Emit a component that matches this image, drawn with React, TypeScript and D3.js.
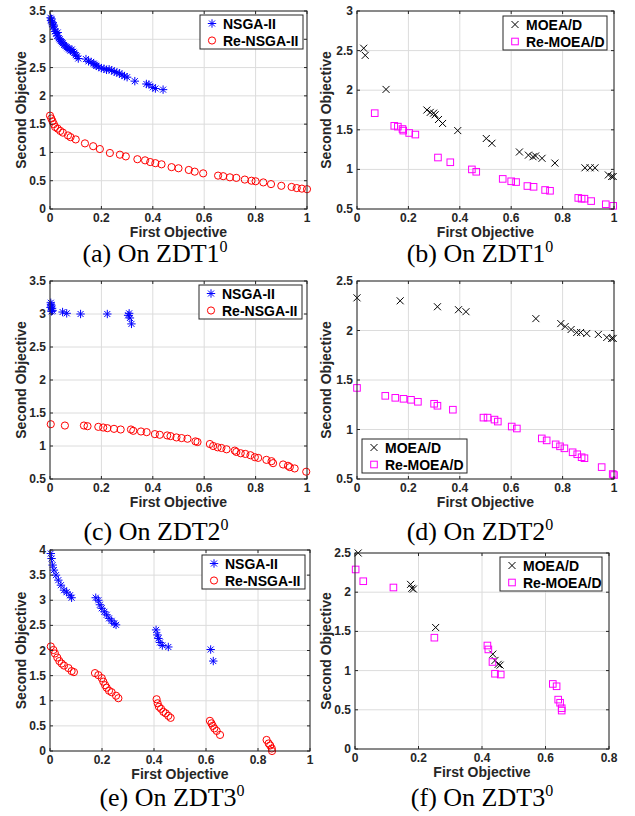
import React, { useEffect, useRef } from "react";
import * as d3 from "d3";

type Pt = [number, number];

// (a) ZDT1, NSGA-II family
const zdt1Nsga: Pt[] = [
  [0.002, 3.38], [0.004, 3.33], [0.006, 3.36], [0.008, 3.3], [0.01, 3.27], [0.012, 3.22],
  [0.015, 3.25], [0.018, 3.18], [0.02, 3.14], [0.024, 3.1], [0.028, 3.06], [0.03, 3.12],
  [0.034, 3.02], [0.038, 3.0], [0.042, 2.97], [0.046, 2.95], [0.05, 2.93], [0.055, 2.9],
  [0.06, 2.88], [0.065, 2.86], [0.07, 2.84], [0.075, 2.82], [0.08, 2.8], [0.085, 2.82],
  [0.09, 2.78], [0.095, 2.76], [0.1, 2.72], [0.105, 2.7], [0.11, 2.66], [0.14, 2.65],
  [0.15, 2.61], [0.16, 2.6], [0.17, 2.57], [0.175, 2.55], [0.18, 2.53], [0.19, 2.51],
  [0.2, 2.49], [0.21, 2.48], [0.22, 2.46], [0.23, 2.47], [0.24, 2.45], [0.25, 2.43],
  [0.26, 2.41], [0.27, 2.4], [0.28, 2.37], [0.29, 2.35], [0.3, 2.33], [0.33, 2.26],
  [0.375, 2.21], [0.385, 2.2], [0.4, 2.15], [0.41, 2.13], [0.44, 2.11],
];
const zdt1ReNsga: Pt[] = [
  [0.0, 1.65], [0.005, 1.6], [0.01, 1.55], [0.015, 1.5], [0.02, 1.45], [0.03, 1.42],
  [0.04, 1.38], [0.05, 1.35], [0.07, 1.3], [0.08, 1.27], [0.1, 1.23], [0.136, 1.16],
  [0.168, 1.11], [0.194, 1.06], [0.233, 0.99], [0.272, 0.96], [0.295, 0.93], [0.34, 0.88],
  [0.37, 0.86], [0.39, 0.83], [0.41, 0.81], [0.434, 0.79], [0.473, 0.74], [0.5, 0.72],
  [0.54, 0.69], [0.563, 0.66], [0.596, 0.63], [0.654, 0.59], [0.674, 0.58], [0.7, 0.56],
  [0.725, 0.55], [0.758, 0.52], [0.784, 0.5], [0.8, 0.49], [0.83, 0.47], [0.86, 0.44],
  [0.9, 0.41], [0.94, 0.39], [0.96, 0.37], [0.98, 0.36], [1.0, 0.35],
];
// (b) ZDT1, MOEA/D family
const zdt1Moead: Pt[] = [
  [0.026, 2.53], [0.032, 2.44], [0.113, 2.01], [0.272, 1.75], [0.285, 1.72], [0.298, 1.71],
  [0.304, 1.69], [0.317, 1.63], [0.333, 1.58], [0.392, 1.49], [0.503, 1.39], [0.525, 1.33],
  [0.632, 1.22], [0.667, 1.18], [0.685, 1.16], [0.695, 1.17], [0.72, 1.14], [0.77, 1.08],
  [0.887, 1.02], [0.907, 1.02], [0.926, 1.02], [0.978, 0.93], [0.991, 0.91], [0.997, 0.91],
];
const zdt1ReMoead: Pt[] = [
  [0.069, 1.71], [0.145, 1.55], [0.159, 1.54], [0.177, 1.51], [0.18, 1.49], [0.203, 1.46],
  [0.227, 1.44], [0.315, 1.15], [0.363, 1.09], [0.447, 1.0], [0.464, 0.97], [0.567, 0.88],
  [0.6, 0.85], [0.619, 0.84], [0.663, 0.79], [0.687, 0.78], [0.732, 0.74], [0.751, 0.73],
  [0.861, 0.64], [0.874, 0.63], [0.885, 0.63], [0.911, 0.6], [0.968, 0.56], [0.997, 0.54],
];
// (c) ZDT2, NSGA-II family
const zdt2Nsga: Pt[] = [
  [0.003, 3.17], [0.005, 3.12], [0.008, 3.08], [0.01, 3.05], [0.002, 3.1], [0.006, 3.04],
  [0.004, 3.14], [0.049, 3.03], [0.065, 3.01], [0.119, 3.0], [0.223, 3.0], [0.304, 2.98],
  [0.308, 3.01], [0.311, 2.94], [0.317, 2.85],
];
const zdt2ReNsga: Pt[] = [
  [0.003, 1.33], [0.058, 1.31], [0.132, 1.31], [0.146, 1.3], [0.188, 1.29], [0.207, 1.28],
  [0.223, 1.27], [0.249, 1.26], [0.275, 1.25], [0.315, 1.25], [0.324, 1.23], [0.354, 1.22],
  [0.376, 1.21], [0.408, 1.18], [0.427, 1.17], [0.456, 1.16], [0.469, 1.15], [0.492, 1.13],
  [0.512, 1.12], [0.535, 1.11], [0.566, 1.07], [0.574, 1.06], [0.622, 1.03], [0.635, 1.0],
  [0.652, 0.98], [0.667, 0.97], [0.687, 0.95], [0.719, 0.93], [0.725, 0.91], [0.742, 0.89],
  [0.76, 0.88], [0.78, 0.86], [0.797, 0.83], [0.81, 0.82], [0.842, 0.79], [0.862, 0.77],
  [0.868, 0.74], [0.907, 0.72], [0.926, 0.7], [0.933, 0.68], [0.952, 0.66], [0.997, 0.61],
];
// (d) ZDT2, MOEA/D family
const zdt2Moead: Pt[] = [
  [0.0, 2.33], [0.168, 2.3], [0.313, 2.24], [0.395, 2.21], [0.424, 2.19], [0.696, 2.12],
  [0.793, 2.07], [0.81, 2.04], [0.833, 2.01], [0.855, 1.98], [0.87, 1.98], [0.894, 1.97],
  [0.939, 1.96], [0.972, 1.93], [0.991, 1.92], [0.997, 1.92],
];
const zdt2ReMoead: Pt[] = [
  [0.0, 1.42], [0.11, 1.34], [0.149, 1.32], [0.181, 1.31], [0.21, 1.3], [0.237, 1.28],
  [0.3, 1.26], [0.313, 1.24], [0.373, 1.2], [0.492, 1.12], [0.508, 1.12], [0.535, 1.1],
  [0.548, 1.08], [0.602, 1.03], [0.622, 1.01], [0.719, 0.91], [0.738, 0.89], [0.773, 0.85],
  [0.79, 0.83], [0.807, 0.81], [0.839, 0.77], [0.857, 0.75], [0.874, 0.72], [0.885, 0.71],
  [0.952, 0.62], [0.995, 0.55], [1.0, 0.54],
];
// (e) ZDT3, NSGA-II family
const zdt3Nsga: Pt[] = [
  [0.003, 3.93], [0.006, 3.83], [0.01, 3.7], [0.015, 3.6], [0.023, 3.5], [0.032, 3.4],
  [0.042, 3.3], [0.054, 3.2], [0.064, 3.16], [0.077, 3.1], [0.083, 3.05],
  [0.176, 3.05], [0.186, 3.0], [0.192, 2.91], [0.199, 2.84], [0.209, 2.77], [0.218, 2.71],
  [0.227, 2.64], [0.237, 2.59], [0.247, 2.54], [0.254, 2.51],
  [0.408, 2.41], [0.413, 2.31], [0.417, 2.24], [0.423, 2.16], [0.432, 2.1], [0.455, 2.07],
  [0.618, 2.02], [0.628, 1.79],
];
const zdt3ReNsga: Pt[] = [
  [0.003, 2.08], [0.013, 2.01], [0.019, 1.94], [0.028, 1.86], [0.036, 1.79], [0.045, 1.74],
  [0.054, 1.7], [0.071, 1.65], [0.083, 1.59], [0.092, 1.57],
  [0.173, 1.55], [0.186, 1.51], [0.199, 1.45], [0.205, 1.38], [0.212, 1.31], [0.218, 1.26],
  [0.227, 1.2], [0.237, 1.17], [0.254, 1.1], [0.263, 1.05],
  [0.41, 1.03], [0.414, 0.95], [0.419, 0.88], [0.427, 0.84], [0.436, 0.78], [0.445, 0.75],
  [0.455, 0.7], [0.464, 0.66],
  [0.615, 0.6], [0.621, 0.55], [0.626, 0.5], [0.632, 0.45], [0.641, 0.4], [0.654, 0.32],
  [0.833, 0.22], [0.841, 0.15], [0.847, 0.11], [0.853, 0.05], [0.854, 0.0],
];
// (f) ZDT3, MOEA/D family
const zdt3Moead: Pt[] = [
  [0.01, 2.5], [0.175, 2.1], [0.179, 2.05], [0.184, 2.04], [0.254, 1.55], [0.434, 1.21],
  [0.441, 1.13], [0.451, 1.08], [0.457, 1.07],
];
const zdt3ReMoead: Pt[] = [
  [0.002, 2.29], [0.026, 2.14], [0.121, 2.06], [0.25, 1.42], [0.417, 1.32], [0.42, 1.27],
  [0.433, 1.11], [0.441, 0.96], [0.459, 0.95], [0.623, 0.83], [0.635, 0.8], [0.64, 0.63],
  [0.646, 0.59], [0.651, 0.52], [0.651, 0.49],
];

const xTicks10 = [0, 0.2, 0.4, 0.6, 0.8, 1];
const xTicks08 = [0, 0.2, 0.4, 0.6, 0.8];
const yTicks0to35 = [0, 0.5, 1, 1.5, 2, 2.5, 3, 3.5];
const yTicks05to3 = [0.5, 1, 1.5, 2, 2.5, 3];
const yTicks05to35 = [0.5, 1, 1.5, 2, 2.5, 3, 3.5];
const yTicks05to25 = [0.5, 1, 1.5, 2, 2.5];
const yTicks0to4 = [0, 0.5, 1, 1.5, 2, 2.5, 3, 3.5, 4];
const yTicks0to25 = [0, 0.5, 1, 1.5, 2, 2.5];

const nsgaNames = ["NSGA-II", "Re-NSGA-II"];
const moeadNames = ["MOEA/D", "Re-MOEA/D"];
const titles = ["(a) On ZDT1", "(b) On ZDT1", "(c) On ZDT2", "(d) On ZDT2", "(e) On ZDT3", "(f) On ZDT3"];

const AX = "#262626";
const FONT = "'Liberation Sans', Arial, Helvetica, sans-serif";

const panels = [
  { box: [50, 11, 307, 209], x: xTicks10, y: yTicks0to35, data: [zdt1Nsga, zdt1ReNsga], names: nsgaNames, kinds: ["star", "circle"], legend: [200, 15, 103, 34], title: titles[0], tx: 155, ty: 262, ylx: 21 },
  { box: [357, 11, 614, 209], x: xTicks10, y: yTicks05to3, data: [zdt1Moead, zdt1ReMoead], names: moeadNames, kinds: ["x", "square"], legend: [503, 16, 104, 34], title: titles[1], tx: 480, ty: 262, ylx: 326 },
  { box: [50, 281, 307, 479], x: xTicks10, y: yTicks05to35, data: [zdt2Nsga, zdt2ReNsga], names: nsgaNames, kinds: ["star", "circle"], legend: [199, 285, 103, 34], title: titles[2], tx: 156, ty: 540, ylx: 21 },
  { box: [357, 281, 614, 479], x: xTicks10, y: yTicks05to25, data: [zdt2Moead, zdt2ReMoead], names: moeadNames, kinds: ["x", "square"], legend: [362, 439, 105, 34], title: titles[3], tx: 480, ty: 540, ylx: 326 },
  { box: [50, 550, 310, 751], x: xTicks10, y: yTicks0to4, data: [zdt3Nsga, zdt3ReNsga], names: nsgaNames, kinds: ["star", "circle"], legend: [202, 555, 103, 34], title: titles[4], tx: 172, ty: 806, ylx: 21 },
  { box: [355, 553, 609, 749], x: xTicks08, y: yTicks0to25, data: [zdt3Moead, zdt3ReMoead], names: moeadNames, kinds: ["x", "square"], legend: [500, 557, 102, 34], title: titles[5], tx: 482, ty: 806, ylx: 326 },
];

const colors: Record<string, string> = { star: "#0000ff", circle: "#ff0000", x: "#000000", square: "#ff00ff" };

function marker(g: any, kind: string, cx: number, cy: number) {
  const c = colors[kind];
  if (kind === "circle") {
    g.append("circle").attr("cx", cx).attr("cy", cy).attr("r", 3.6)
      .attr("fill", "none").attr("stroke", c).attr("stroke-width", 1);
  } else if (kind === "square") {
    g.append("rect").attr("x", cx - 3.3).attr("y", cy - 3.3).attr("width", 6.6).attr("height", 6.6)
      .attr("fill", "none").attr("stroke", c).attr("stroke-width", 1);
  } else if (kind === "x") {
    const r = 3.5;
    g.append("path").attr("d", `M${cx - r},${cy - r}L${cx + r},${cy + r}M${cx - r},${cy + r}L${cx + r},${cy - r}`)
      .attr("stroke", c).attr("stroke-width", 1).attr("fill", "none");
  } else {
    const r = 4.2, d = 3;
    g.append("path")
      .attr("d", `M${cx - r},${cy}L${cx + r},${cy}M${cx},${cy - r}L${cx},${cy + r}M${cx - d},${cy - d}L${cx + d},${cy + d}M${cx - d},${cy + d}L${cx + d},${cy - d}`)
      .attr("stroke", c).attr("stroke-width", 1).attr("fill", "none");
  }
}

function App() {
  const svgRef = useRef<SVGSVGElement>(null);

  useEffect(() => {
    document.body.style.margin = "0";
    const svg = d3.select(svgRef.current);
    svg.selectAll("*").remove();
    svg.append("rect").attr("width", 635).attr("height", 816).attr("fill", "#fff");

    panels.forEach((p) => {
      const [l, t, r, b] = p.box;
      const xs = d3.scaleLinear().domain([p.x[0], p.x[p.x.length - 1]]).range([l, r]);
      const ys = d3.scaleLinear().domain([p.y[0], p.y[p.y.length - 1]]).range([b, t]);
      const g = svg.append("g");

      // grid
      g.selectAll(".gx").data(p.x).join("line")
        .attr("x1", (d) => xs(d)).attr("x2", (d) => xs(d)).attr("y1", t).attr("y2", b)
        .attr("stroke", "#dcdcdc").attr("stroke-width", 1);
      g.selectAll(".gy").data(p.y).join("line")
        .attr("y1", (d) => ys(d)).attr("y2", (d) => ys(d)).attr("x1", l).attr("x2", r)
        .attr("stroke", "#dcdcdc").attr("stroke-width", 1);

      // data
      p.data.forEach((series, i) => {
        series.forEach(([vx, vy]) => marker(g, p.kinds[i], xs(vx), ys(vy)));
      });

      // box and inward ticks
      g.append("rect").attr("x", l).attr("y", t).attr("width", r - l).attr("height", b - t)
        .attr("fill", "none").attr("stroke", AX).attr("stroke-width", 1);
      const tk = 3;
      p.x.forEach((v) => {
        g.append("line").attr("x1", xs(v)).attr("x2", xs(v)).attr("y1", b).attr("y2", b - tk).attr("stroke", AX);
        g.append("line").attr("x1", xs(v)).attr("x2", xs(v)).attr("y1", t).attr("y2", t + tk).attr("stroke", AX);
        g.append("text").attr("x", xs(v)).attr("y", b + 13).attr("text-anchor", "middle")
          .attr("font-family", FONT).attr("font-weight", "bold").attr("font-size", 12).attr("fill", AX)
          .text(d3.format("~g")(v));
      });
      p.y.forEach((v) => {
        g.append("line").attr("y1", ys(v)).attr("y2", ys(v)).attr("x1", l).attr("x2", l + tk).attr("stroke", AX);
        g.append("line").attr("y1", ys(v)).attr("y2", ys(v)).attr("x1", r).attr("x2", r - tk).attr("stroke", AX);
        g.append("text").attr("x", l - 4).attr("y", ys(v) + 4).attr("text-anchor", "end")
          .attr("font-family", FONT).attr("font-weight", "bold").attr("font-size", 12).attr("fill", AX)
          .text(d3.format("~g")(v));
      });

      // axis labels
      g.append("text").attr("x", (l + r) / 2).attr("y", b + 28).attr("text-anchor", "middle")
        .attr("font-family", FONT).attr("font-weight", "bold").attr("font-size", 14).attr("fill", AX)
        .text("First Objective");
      g.append("text").attr("transform", `translate(${p.ylx + 5},${(t + b) / 2}) rotate(-90)`)
        .attr("text-anchor", "middle")
        .attr("font-family", FONT).attr("font-weight", "bold").attr("font-size", 14).attr("fill", AX)
        .text("Second Objective");

      // legend
      const [lx, ly, lw, lh] = p.legend;
      g.append("rect").attr("x", lx).attr("y", ly).attr("width", lw).attr("height", lh)
        .attr("fill", "#fff").attr("stroke", AX).attr("stroke-width", 1);
      p.names.forEach((name, i) => {
        const cy = ly + lh * (i === 0 ? 0.25 : 0.75);
        marker(g, p.kinds[i], lx + 12, cy);
        g.append("text").attr("x", lx + 23).attr("y", cy + 5)
          .attr("font-family", FONT).attr("font-weight", "bold").attr("font-size", 14).attr("fill", "#000")
          .text(name);
      });

      // caption
      const cap = g.append("text").attr("x", p.tx).attr("y", p.ty).attr("text-anchor", "middle")
        .attr("font-family", "'Liberation Serif', 'Times New Roman', serif").attr("font-size", 26).attr("fill", "#000");
      cap.append("tspan").text(p.title);
      cap.append("tspan").attr("dy", -10).attr("font-size", 16).text("0");
    });
  }, []);

  return <svg ref={svgRef} width={635} height={816} style={{ display: "block" }}></svg>;
}

export default App;
